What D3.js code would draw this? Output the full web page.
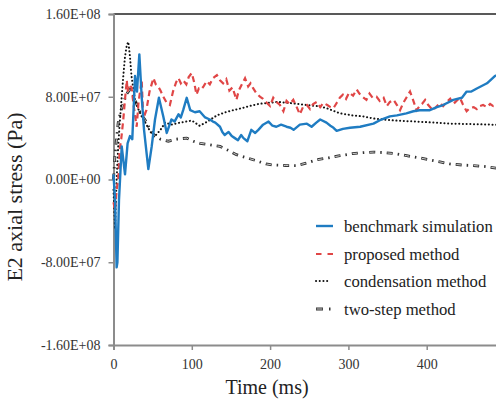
<!DOCTYPE html>
<html>
<head>
<meta charset="utf-8">
<script src="https://cdn.jsdelivr.net/npm/d3@7"></script>
<style>
  body { margin: 0; background: #fff; }
</style>
</head>
<body>
<div id="chart"></div>
<script>
// stress values are in units of 1E+07 Pa, time in ms

let benchT = [0,2,4,5,7,10.5,14.7,18,21,24,27.5,30,33,36,39,44.5,48.8,53,58,63.6,68,74,78,83,86,89,93.5,98,104,110,117,123,127,130,136,139,142,147,151,155,159,163,166,171,176,181,185,191,198,203,208,214,221,226,230,238,247,253,259,264,272,277,281,285,293,302,315,332,342,353,362,374,383,391,404,413,421,434,445,451,457,464,477,487,495];
let benchV = [0.5,-2,-8.5,-8,-2,3.2,0.5,3.5,4.2,3.9,10,8.5,12.1,8,4.8,1.0,3.2,5.8,7.9,6.1,4.5,5.8,5.6,6.3,6.0,6.7,7.9,6.7,6.5,6.6,6.0,5.8,5.6,5.5,5.1,4.6,4.3,4.6,4.2,4.0,3.8,4.3,4.0,3.7,4.8,4.5,4.8,5.3,5.6,5.2,5.1,5.3,5.1,5.0,4.8,5.3,5.4,5.1,5.5,5.8,5.5,5.2,5.0,4.7,4.9,5.0,5.1,5.4,5.8,6.1,6.2,6.4,6.6,6.7,6.7,7.0,7.2,7.7,7.9,8.5,8.5,8.8,9.3,10.0,10.3];

let propT = [0,2,4,6,8,10,12.5,15,17,18,20,23,26,29.6,32,36,38,42,46,51,54,57,60,63.6,68,72,76,80,83,86,89,93,96,100,103,106,109,112,115,119,123,127,132,136,140,144,148,152,157,160,164,168,172,175,178.5,182,187,191,196,200,204,208,212.6,217,221,225,229.6,234,238,242,247,251,255,259.5,264,268,273,277,281,285,289,293,297,301,306,310.6,314,318,323,327,331,336,340,345,349,353,357.7,362,366,370,374,378.7,383,387,391,394,398,402,408,412,417,421,425.5,430,434,438,442.5,446,451,455,460,464,468,472,477,481,485,489,495];
let propV = [-2.2,-3,-1,0,2.9,4,5.8,8,9.6,8.5,9.2,8.9,7,5.1,7.5,9.6,5.9,6.7,8.5,9.8,9.2,9.0,8.6,8.0,7.4,7.2,8.5,9.4,9.8,9.3,9.6,9.2,9.9,10.3,9.4,8.2,8.8,8.7,9.0,9.5,9.2,9.8,10.1,9.6,9.3,9.7,8.6,8.9,7.7,8.6,9.2,9.8,9.0,9.3,8.8,8.4,8.0,7.8,7.4,7.1,7.9,7.5,7.2,6.6,7.6,7.3,7.7,7.0,6.3,7.0,7.2,6.8,7.3,7.5,7.0,7.4,7.2,7.0,6.9,7.4,7.9,8.2,7.8,8.4,8.1,8.7,8.3,8.0,7.7,8.3,7.9,8.0,7.6,7.9,7.1,7.5,7.7,7.2,6.7,7.4,7.9,8.5,7.6,6.7,7.1,7.3,7.7,7.2,6.7,7.0,7.4,7.1,7.5,7.8,7.3,7.6,7.9,7.3,6.6,6.9,7.0,6.8,7.1,7.2,7.0,7.3,7.1,7.2,7.1];

let condT = [0,2,4,6,8,10.5,12.5,14.7,17,19,21,23,25.5,27.5,31.7,36,40,45,49,53,60,66,74,85,100,110,120,132,143,153,164,174,185,196,210,225,247,260,272,289,305,319,332,344.6,360,387,410,430,460,485,495];
let condV = [-1,-4.8,0,3.2,5.5,8,10,11.9,13,13.3,11.9,10,8.7,7.7,6.8,6.1,5.6,4.9,4.4,4.2,4.8,5.5,5.3,5.5,5.7,5.2,5.6,6.2,6.5,6.7,6.9,7.1,7.3,7.4,7.5,7.4,7.2,7.1,6.9,6.4,6.2,6.1,5.9,5.8,5.7,5.6,5.5,5.4,5.35,5.3,5.3];

let twoT = [0,2,4,6,9,13,17,21,25,30,35,40,47,53,60,70,80,93.5,102,110.5,120,136,147,157,170,183,195,204,220,234,247,259.5,275,289,305,319,332,344.6,360,374.5,390,404,417,430,445,459.5,475,489,495];
let twoV = [0,2.5,4,5.5,6.5,7.5,8.3,8.7,8.2,7.2,6.3,5.8,4.8,4.2,3.9,3.7,3.9,4.0,3.7,3.5,3.4,3.2,2.8,2.4,2.1,1.8,1.5,1.4,1.35,1.35,1.6,1.9,2.1,2.3,2.5,2.6,2.65,2.6,2.5,2.3,2.1,1.9,1.7,1.5,1.4,1.35,1.25,1.1,1.05];

let seriesNames = ["benchmark simulation", "proposed method", "condensation method", "two-step method"];

let xTicks = [0,100,200,300,400];
let yTicks = [16,8,0,-8,-16];
let yTickLabels = ["1.60E+08","8.00E+07","0.00E+00","-8.00E+07","-1.60E+08"];

let serif = "'Liberation Serif', 'Times New Roman', Times, 'DejaVu Serif', serif";

let svgWidth = 496;
let svgHeight = 400;

let svg = d3.select("#chart")
  .append("svg")
  .attr("width", svgWidth)
  .attr("height", svgHeight)
  .attr("font-family", serif);

let xScale = d3.scaleLinear().domain([0,500]).range([113.5, 505]);
let yScale = d3.scaleLinear().domain([-16,16]).range([345, 14]);

// top border
svg.append("line")
  .attr("x1", xScale(0)).attr("x2", svgWidth)
  .attr("y1", yScale(16)).attr("y2", yScale(16))
  .attr("stroke", "#222").attr("stroke-width", 1.5);

// y axis
let yAxis = svg.append("g")
  .attr("transform", `translate(${xScale(0)},0)`)
  .call(d3.axisLeft(yScale).tickValues(yTicks).tickSize(5).tickPadding(8)
    .tickFormat((d,i) => yTickLabels[i]));

// x axis
let xAxis = svg.append("g")
  .attr("transform", `translate(0,${yScale(-16)})`)
  .call(d3.axisBottom(xScale).tickValues(xTicks).tickSize(5).tickPadding(9));

[yAxis, xAxis].forEach(g => {
  g.attr("font-family", serif).attr("font-size", 14);
  g.select(".domain").attr("stroke", "#8c8c8c").attr("stroke-width", 2);
  g.selectAll(".tick line").attr("stroke", "#8c8c8c").attr("stroke-width", 1.5);
  g.selectAll(".tick text").attr("fill", "#333");
});

// axis titles
svg.append("text")
  .attr("x", 267).attr("y", 394)
  .attr("text-anchor", "middle")
  .attr("fill", "#222")
  .attr("font-size", 20)
  .text("Time (ms)");

svg.append("text")
  .attr("transform", "translate(22,197) rotate(-90)")
  .attr("text-anchor", "middle")
  .attr("fill", "#222")
  .attr("font-size", 22)
  .text("E2 axial stress (Pa)");

let line = d3.line()
  .x(d => xScale(d[0]))
  .y(d => yScale(d[1]));

let zip = (ts, vs) => ts.map((t,i) => [t, vs[i]]);

let plot = svg.append("g");

// two-step: outlined gray dash + dot
plot.append("path")
  .datum(zip(twoT, twoV))
  .attr("d", line)
  .attr("fill", "none")
  .attr("stroke", "#333")
  .attr("stroke-width", 2.8)
  .attr("stroke-dasharray", "6,5,1.5,5");
plot.append("path")
  .datum(zip(twoT, twoV))
  .attr("d", line)
  .attr("fill", "none")
  .attr("stroke", "#ccc")
  .attr("stroke-width", 1)
  .attr("stroke-dasharray", "4.5,13")
  .attr("stroke-dashoffset", -0.75);

// condensation: dotted
plot.append("path")
  .datum(zip(condT, condV))
  .attr("d", line)
  .attr("fill", "none")
  .attr("stroke", "#111")
  .attr("stroke-width", 2)
  .attr("stroke-linecap", "round")
  .attr("stroke-dasharray", "0.1,3.6");

// proposed: red dashed
plot.append("path")
  .datum(zip(propT, propV))
  .attr("d", line)
  .attr("fill", "none")
  .attr("stroke", "#e04646")
  .attr("stroke-width", 2.2)
  .attr("stroke-dasharray", "6,4");

// benchmark: blue solid
plot.append("path")
  .datum(zip(benchT, benchV))
  .attr("d", line)
  .attr("fill", "none")
  .attr("stroke", "#1f7cc2")
  .attr("stroke-width", 2.4)
  .attr("stroke-linejoin", "round");

// legend
let legend = svg.append("g");
let rowY = [226, 254, 281, 309];
seriesNames.forEach((name, i) => {
  let y = rowY[i];
  if (i === 0) {
    legend.append("line").attr("x1", 316).attr("x2", 333).attr("y1", y).attr("y2", y)
      .attr("stroke", "#1f7cc2").attr("stroke-width", 2.4);
  } else if (i === 1) {
    legend.append("line").attr("x1", 316).attr("x2", 333).attr("y1", y).attr("y2", y)
      .attr("stroke", "#e04646").attr("stroke-width", 2.2).attr("stroke-dasharray", "5.5,6");
  } else if (i === 2) {
    legend.append("line").attr("x1", 316).attr("x2", 330).attr("y1", y).attr("y2", y)
      .attr("stroke", "#111").attr("stroke-width", 2).attr("stroke-linecap", "round")
      .attr("stroke-dasharray", "0.1,3.6");
  } else {
    legend.append("line").attr("x1", 316).attr("x2", 333).attr("y1", y).attr("y2", y)
      .attr("stroke", "#333").attr("stroke-width", 2.8).attr("stroke-dasharray", "7,6,1.5,10");
    legend.append("line").attr("x1", 316.7).attr("x2", 322.3).attr("y1", y).attr("y2", y)
      .attr("stroke", "#ccc").attr("stroke-width", 1);
  }
  legend.append("text")
    .attr("x", 344).attr("y", y + 6)
    .attr("fill", "#222")
    .attr("font-size", 16.7)
    .text(name);
});
</script>
</body>
</html>
